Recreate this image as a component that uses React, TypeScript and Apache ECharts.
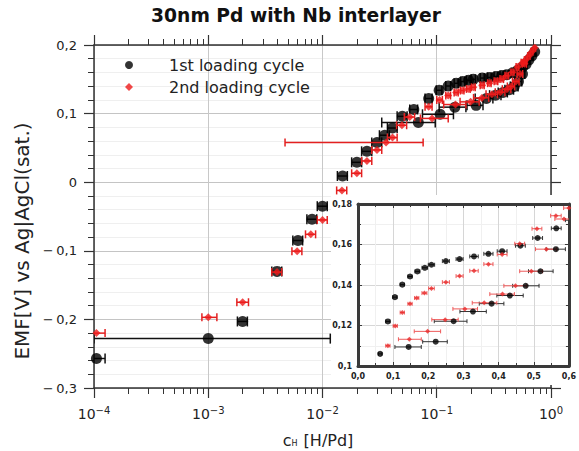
import React, { useEffect, useRef } from 'react';
import * as echarts from 'echarts';

// 1st loading cycle (black): c_H [H/Pd], EMF [V], horizontal error bar limits
const c1 = [1.05e-4, 1.0e-3, 2.0e-3, 4.0e-3, 6.1e-3, 8.1e-3, 1.0e-2, 1.5e-2, 2.0e-2, 2.45e-2, 3.0e-2, 3.5e-2, 4.1e-2, 5.0e-2, 0.063, 0.069, 0.085, 0.105, 0.107, 0.126, 0.148, 0.169, 0.19, 0.209, 0.25, 0.289, 0.33, 0.371, 0.41, 0.462, 0.511, 0.564, 0.605, 0.64, 0.68, 0.72, 0.144, 0.221, 0.272, 0.327, 0.38, 0.432, 0.477, 0.519, 0.563];
const e1 = [-0.257, -0.228, -0.203, -0.130, -0.085, -0.054, -0.035, 0.009, 0.029, 0.045, 0.058, 0.0685, 0.079, 0.096, 0.106, 0.087, 0.122, 0.134, 0.099, 0.1402, 0.1442, 0.1467, 0.1485, 0.150, 0.1518, 0.1528, 0.1541, 0.1554, 0.1567, 0.1594, 0.1632, 0.168, 0.172, 0.178, 0.184, 0.19, 0.1094, 0.112, 0.1221, 0.1269, 0.1308, 0.1348, 0.1396, 0.1468, 0.1577];
const c1Lo = [0.88e-4, 1.0e-4, 1.8e-3, 3.6e-3, 5.5e-3, 7.3e-3, 0.9e-2, 1.35e-2, 1.8e-2, 2.2e-2, 2.7e-2, 3.15e-2, 3.7e-2, 4.5e-2, 0.058, 0.033, 0.079, 0.099, 0.075, 0.12, 0.142, 0.162, 0.182, 0.2, 0.24, 0.279, 0.318, 0.358, 0.396, 0.448, 0.497, 0.55, 0.59, 0.625, 0.665, 0.705, 0.105, 0.184, 0.217, 0.29, 0.345, 0.395, 0.44, 0.485, 0.535];
const c1Hi = [1.25e-4, 1.17e-2, 2.2e-3, 4.4e-3, 6.7e-3, 8.9e-3, 1.1e-2, 1.65e-2, 2.2e-2, 2.7e-2, 3.3e-2, 3.85e-2, 4.5e-2, 5.5e-2, 0.068, 0.097, 0.091, 0.111, 0.14, 0.132, 0.154, 0.176, 0.198, 0.218, 0.26, 0.299, 0.342, 0.384, 0.424, 0.476, 0.525, 0.578, 0.62, 0.655, 0.695, 0.735, 0.18, 0.254, 0.31, 0.365, 0.415, 0.47, 0.515, 0.555, 0.59];

// 2nd loading cycle (red)
const c2 = [1.05e-4, 1.0e-3, 2.0e-3, 4.0e-3, 6.0e-3, 7.9e-3, 1.0e-2, 1.48e-2, 2.0e-2, 2.45e-2, 3.0e-2, 3.6e-2, 4.1e-2, 4.96e-2, 5.8e-2, 0.085, 0.091, 0.106, 0.126, 0.148, 0.167, 0.189, 0.209, 0.25, 0.289, 0.33, 0.371, 0.41, 0.46, 0.509, 0.563, 0.6, 0.64, 0.68, 0.72, 0.146, 0.198, 0.248, 0.304, 0.359, 0.411, 0.448, 0.493, 0.536, 0.586];
const e2 = [-0.220, -0.197, -0.175, -0.131, -0.1005, -0.076, -0.055, -0.012, 0.013, 0.031, 0.047, 0.058, 0.065, 0.083, 0.095, 0.110, 0.093, 0.1198, 0.1264, 0.1307, 0.1336, 0.136, 0.1383, 0.1414, 0.1444, 0.147, 0.1503, 0.1551, 0.1604, 0.1678, 0.1742, 0.178, 0.184, 0.19, 0.196, 0.1132, 0.1171, 0.1229, 0.1282, 0.1312, 0.1355, 0.1396, 0.1468, 0.1577, 0.1726];
const c2Lo = [0.9e-4, 0.88e-3, 1.78e-3, 3.6e-3, 5.4e-3, 7.1e-3, 0.9e-2, 1.33e-2, 1.8e-2, 2.2e-2, 2.7e-2, 4.7e-3, 3.7e-2, 4.45e-2, 5.2e-2, 0.079, 0.072, 0.1, 0.12, 0.142, 0.161, 0.182, 0.201, 0.24, 0.279, 0.318, 0.358, 0.396, 0.446, 0.495, 0.548, 0.585, 0.625, 0.665, 0.705, 0.115, 0.16, 0.21, 0.27, 0.325, 0.375, 0.415, 0.46, 0.505, 0.56];
const c2Hi = [1.25e-4, 1.19e-3, 2.25e-3, 4.4e-3, 6.6e-3, 8.7e-3, 1.1e-2, 1.63e-2, 2.2e-2, 2.7e-2, 3.3e-2, 7.6e-2, 4.5e-2, 5.45e-2, 6.4e-2, 0.091, 0.126, 0.112, 0.132, 0.154, 0.173, 0.196, 0.217, 0.26, 0.299, 0.342, 0.384, 0.424, 0.474, 0.523, 0.578, 0.615, 0.655, 0.695, 0.735, 0.18, 0.235, 0.285, 0.34, 0.395, 0.445, 0.48, 0.525, 0.565, 0.61];

const seriesNames = ['1st loading cycle', '2nd loading cycle'];
const titleText = '30nm Pd with Nb interlayer';
const yName = 'EMF[V] vs Ag|AgCl(sat.)';

// minor tick positions of the log axis (log10 space)
const minorLogTicks: number[] = [];
for (let d = -4; d < 0; d++) for (let k = 2; k < 10; k++) minorLogTicks.push(d + Math.log10(k));

const fmtPow = (v: number) => {
  const p = Math.round(Math.log10(v));
  return '{b|10}{s|' + (p < 0 ? '\u2212' + -p : String(p)) + '}';
};
const fmtComma = (v: number, d: number) => {
  const r = Math.round(v * Math.pow(10, d)) / Math.pow(10, d);
  if (r === 0) return '0';
  const s = String(Math.abs(r)).replace('.', ',');
  return r < 0 ? '\u2212\u2009' + s : s;
};

const FONT = 'DejaVu Sans';
const AX = '#333';

const errBar = (color: string, width: number, cap: number) => (params: any, api: any) => {
  const y = api.value(1);
  const a = api.coord([api.value(2), y]);
  const b = api.coord([api.value(3), y]);
  const style = { stroke: color, lineWidth: width, fill: 'none' };
  return {
    type: 'group',
    children: [
      { type: 'line', shape: { x1: a[0], y1: a[1], x2: b[0], y2: b[1] }, style },
      { type: 'line', shape: { x1: a[0], y1: a[1] - cap, x2: a[0], y2: a[1] + cap }, style },
      { type: 'line', shape: { x1: b[0], y1: b[1] - cap, x2: b[0], y2: b[1] + cap }, style },
    ],
  };
};

export default function App() {
  const ref = useRef<HTMLDivElement>(null);
  useEffect(() => {
    if (!ref.current) return;
    const chart = echarts.init(ref.current, undefined, { renderer: 'svg' });
    const d1 = c1.map((c, i) => [c, e1[i], c1Lo[i], c1Hi[i]]);
    const d2 = c2.map((c, i) => [c, e2[i], c2Lo[i], c2Hi[i]]);

    const mainLog = (pos: 'bottom' | 'top', labels: boolean) => ({
      type: 'log', gridIndex: 0, position: pos, min: 1e-4, max: 1, logBase: 10,
      axisLine: { show: true, onZero: false, lineStyle: { color: AX, width: 1.5 } },
      axisTick: { show: true, length: 10, lineStyle: { color: AX, width: 1.2 } },
      axisLabel: {
        show: labels, formatter: fmtPow, margin: 17, color: '#222',
        rich: {
          b: { fontSize: 14, fontFamily: FONT, color: '#222' },
          s: { fontSize: 10, fontFamily: FONT, color: '#222', padding: [0, 0, 8, 0] },
        },
      },
      splitLine: { show: labels, lineStyle: { color: '#c8c8c8', width: 1 } },
      z: 0,
    });
    const mainMinor = (pos: 'bottom' | 'top') => ({
      type: 'value', gridIndex: 0, position: pos, min: -4, max: 0,
      axisLine: { show: false, onZero: false },
      axisTick: { show: true, customValues: minorLogTicks, length: 6, lineStyle: { color: AX, width: 1 } },
      axisLabel: { show: false },
      splitLine: { show: false },
      z: 0,
    });
    const mainY = (pos: 'left' | 'right', labels: boolean) => ({
      type: 'value', gridIndex: 0, position: pos, min: -0.3, max: 0.2, interval: 0.1,
      axisLine: { show: true, onZero: false, lineStyle: { color: AX, width: 1.5 } },
      axisTick: { show: true, length: 10, lineStyle: { color: AX, width: 1.2 } },
      minorTick: { show: true, splitNumber: 5, length: 6, lineStyle: { color: AX, width: 1 } },
      axisLabel: { show: labels, formatter: (v: number) => fmtComma(v, 1), fontSize: 13, color: '#222', fontFamily: FONT, margin: 17 },
      splitLine: { show: labels, lineStyle: { color: '#c4c4c4', width: 1 } },
      minorSplitLine: { show: labels, lineStyle: { color: '#efefef', width: 1 } },
      z: 0,
    });
    const insetX = (pos: 'bottom' | 'top', labels: boolean) => ({
      type: 'value', gridIndex: 1, position: pos, min: 0, max: 0.6, interval: 0.1,
      axisLine: { show: true, onZero: false, lineStyle: { color: '#3a3a3a', width: 3 } },
      axisTick: { show: true, inside: true, length: 4, lineStyle: { color: '#3a3a3a', width: 1 } },
      minorTick: { show: true, splitNumber: 2, length: 3, lineStyle: { color: '#3a3a3a', width: 1 } },
      axisLabel: { show: labels, formatter: (v: number) => v.toFixed(1).replace('.', ','), fontSize: 8, fontWeight: 'bold', color: '#222', fontFamily: FONT, margin: 6 },
      splitLine: { show: labels, lineStyle: { color: '#d6d6d6', width: 1 } },
      minorSplitLine: { show: labels, lineStyle: { color: '#f0f0f0', width: 1 } },
      z: 3,
    });
    const insetY = (pos: 'left' | 'right', labels: boolean) => ({
      type: 'value', gridIndex: 1, position: pos, min: 0.1, max: 0.18, interval: 0.02,
      axisLine: { show: true, onZero: false, lineStyle: { color: '#3a3a3a', width: 3 } },
      axisTick: { show: true, inside: true, length: 4, lineStyle: { color: '#3a3a3a', width: 1 } },
      minorTick: { show: true, splitNumber: 2, length: 3, lineStyle: { color: '#3a3a3a', width: 1 } },
      axisLabel: { show: labels, formatter: (v: number) => fmtComma(v, 2), fontSize: 8, fontWeight: 'bold', color: '#222', fontFamily: FONT, margin: 6 },
      splitLine: { show: labels, lineStyle: { color: '#d6d6d6', width: 1 } },
      minorSplitLine: { show: labels, lineStyle: { color: '#f0f0f0', width: 1 } },
      z: 3,
    });

    chart.setOption({
      animation: false,
      backgroundColor: '#fff',
      grid: [
        { left: 94, right: 28, top: 45, bottom: 63 },
        { left: 358, right: 5, top: 204, bottom: 85, show: true, backgroundColor: '#fff', borderWidth: 0, z: 2 },
      ],
      xAxis: [mainLog('bottom', true), mainMinor('bottom'), mainLog('top', false), mainMinor('top'), insetX('bottom', true), insetX('top', false)],
      yAxis: [mainY('left', true), mainY('right', false), insetY('left', true), insetY('right', false)],
      legend: {
        data: [
          { name: seriesNames[0], icon: 'circle' },
          { name: seriesNames[1], icon: 'diamond', itemStyle: { color: '#ee1a1a' } },
        ],
        orient: 'vertical', left: 125, top: 57, padding: 0,
        itemWidth: 8, itemHeight: 8, itemGap: 6, selectedMode: false,
        textStyle: { fontSize: 16, color: '#222', fontFamily: FONT, padding: [0, 0, 0, 31] },
        z: 6,
      },
      graphic: [
        { type: 'rect', z: 1, shape: { x: 331, y: 195, width: 248, height: 190 }, style: { fill: '#fff' } },
        { type: 'text', z: 6, x: 296, y: 15, style: { text: titleText, fontSize: 18.7, fontWeight: 'bold', fontFamily: FONT, fill: '#111', align: 'center', verticalAlign: 'middle' } },
        { type: 'text', z: 6, x: 22, y: 241, rotation: Math.PI / 2, style: { text: yName, fontSize: 20, fontFamily: FONT, fill: '#222', align: 'center', verticalAlign: 'middle' } },
        {
          type: 'text', z: 6, x: 318, y: 440,
          style: {
            text: '{c|c}{h|H}{t| [H/Pd]}', align: 'center', verticalAlign: 'middle', fill: '#222',
            rich: {
              c: { fontSize: 16, fontFamily: FONT, fill: '#222' },
              h: { fontSize: 8, fontFamily: FONT, fill: '#222', padding: [7, 1, 0, 0] },
              t: { fontSize: 16, fontFamily: FONT, fill: '#222' },
            },
          },
        },
      ],
      series: [
        { type: 'custom', name: 'err-1', xAxisIndex: 0, yAxisIndex: 0, clip: true, z: 2, renderItem: errBar('#111', 1.5, 5), data: d1, encode: { x: 0, y: 1 } },
        { type: 'scatter', name: seriesNames[0], xAxisIndex: 0, yAxisIndex: 0, z: 3, symbol: 'circle', symbolSize: 11, itemStyle: { color: '#000' }, data: d1.map((p) => [p[0], p[1]]) },
        { type: 'custom', name: 'err-2', xAxisIndex: 0, yAxisIndex: 0, clip: true, z: 4, renderItem: errBar('#e32020', 1.5, 4), data: d2, encode: { x: 0, y: 1 } },
        { type: 'scatter', name: seriesNames[1], xAxisIndex: 0, yAxisIndex: 0, z: 5, symbol: 'diamond', symbolSize: 8, itemStyle: { color: '#ee1a1a' }, data: d2.map((p) => [p[0], p[1]]) },
        { type: 'custom', name: 'err-1i', xAxisIndex: 4, yAxisIndex: 2, clip: true, z: 4, renderItem: errBar('#333', 1, 2), data: d1, encode: { x: 0, y: 1 } },
        { type: 'scatter', name: seriesNames[0], xAxisIndex: 4, yAxisIndex: 2, z: 5, symbol: 'circle', symbolSize: 6, itemStyle: { color: '#000' }, data: d1.map((p) => [p[0], p[1]]) },
        { type: 'custom', name: 'err-2i', xAxisIndex: 4, yAxisIndex: 2, clip: true, z: 4, renderItem: errBar('#ee5a5a', 1, 2), data: d2, encode: { x: 0, y: 1 } },
        { type: 'scatter', name: seriesNames[1], xAxisIndex: 4, yAxisIndex: 2, z: 5, symbol: 'diamond', symbolSize: 5, itemStyle: { color: '#e82a2a' }, data: d2.map((p) => [p[0], p[1]]) },
      ],
    });
    return () => chart.dispose();
  }, []);
  return <div ref={ref} style={{ position: 'fixed', left: 0, top: 0, width: 579, height: 451 }} />;
}
